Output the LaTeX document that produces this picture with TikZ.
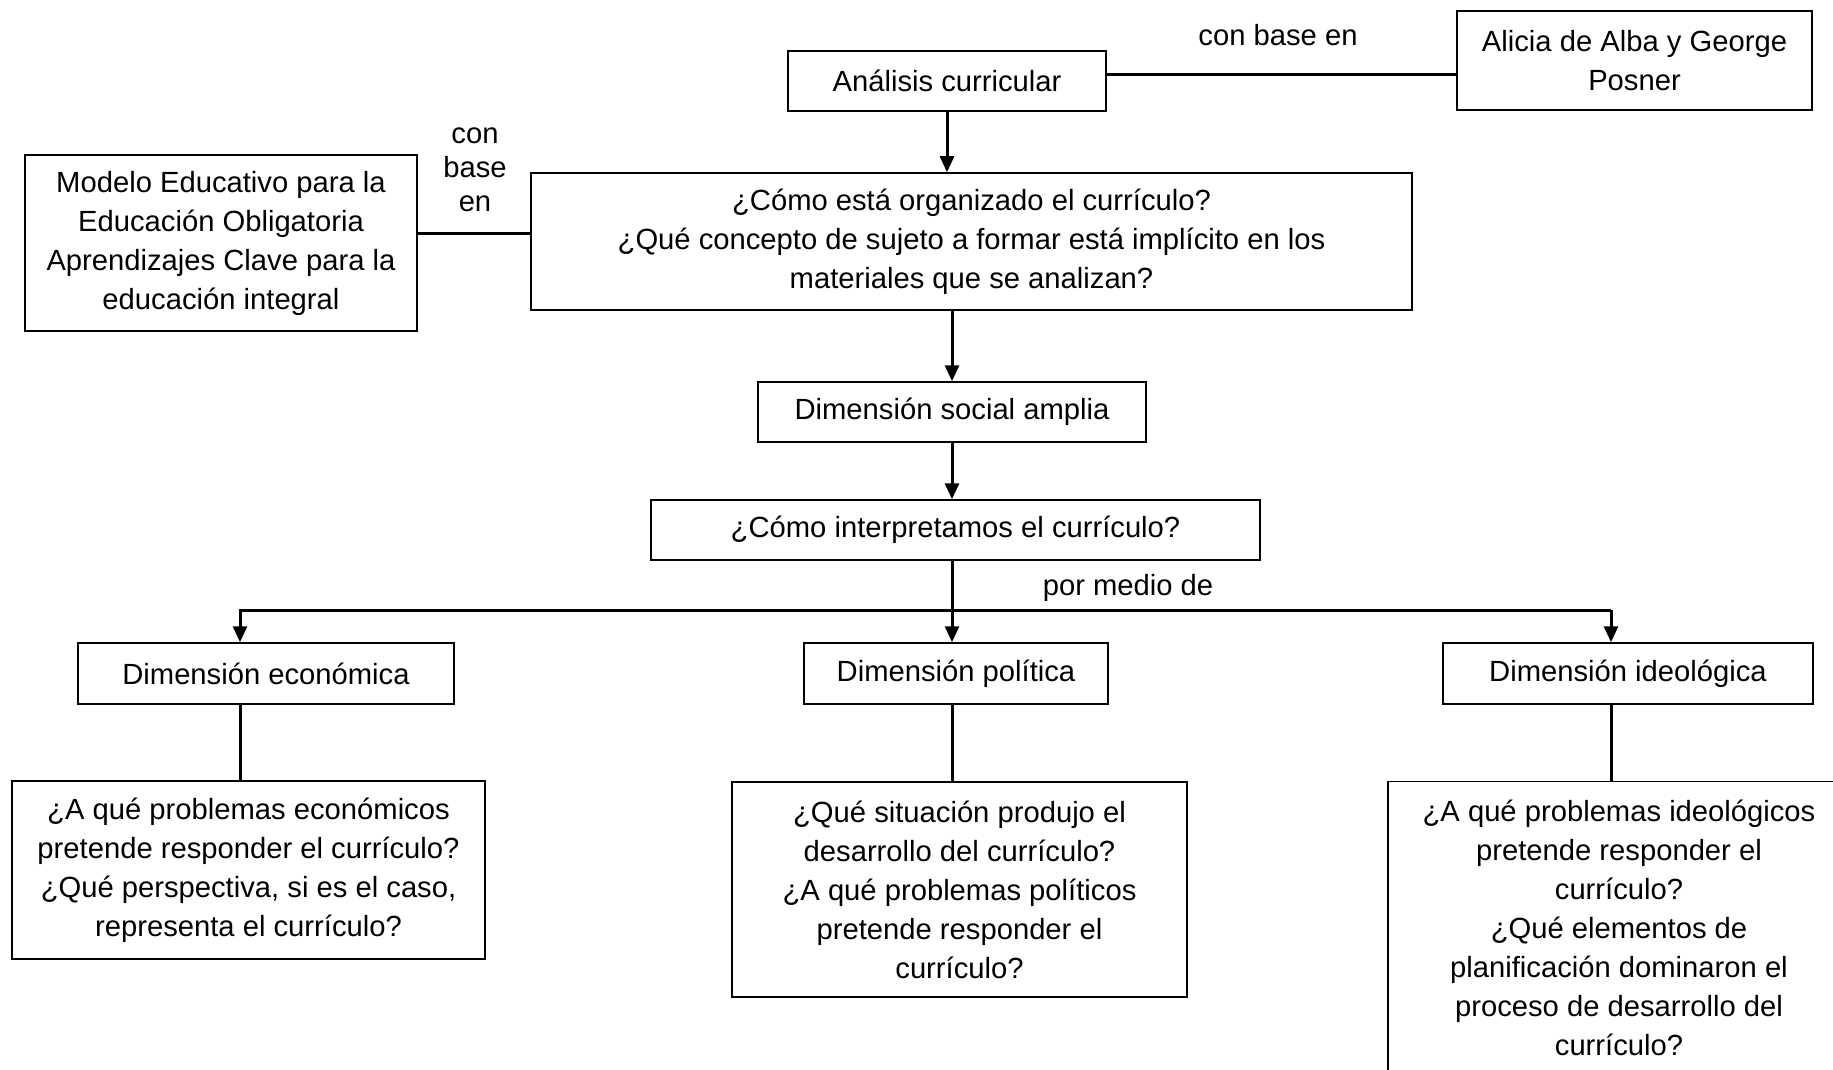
\documentclass[tikz,border=0pt]{standalone}
\usepackage{fontspec}
\setmainfont{Liberation Sans}
\usetikzlibrary{positioning}
\usetikzlibrary{arrows.meta}

\begin{document}
\begin{tikzpicture}[x=0.5pt, y=-0.5pt,
	every node/.style={font=\fontsize{14.6}{19.5}\selectfont, align=center},
	box/.style={draw, line width=0.75pt, inner sep=0pt},
	arr/.style={line width=1.5pt, -{Triangle[length=8pt,width=7pt]}},
	link/.style={line width=1.5pt}]
	\useasboundingbox (0,0) rectangle (1833,1070);
	\clip (0,0) rectangle (1833,1070);

	% Top row
	\node [box, minimum width=159pt, minimum height=30pt] at (947,81) (analisis) {Análisis curricular};
	\node [box, minimum width=177.5pt, minimum height=49.5pt] at (1634.5,60.5) (alicia) {Alicia de Alba y George\\Posner};
	\node at (1278,35) (lbasetop) {con base en};

	% Second row
	\node [box, minimum width=196pt, minimum height=88pt] at (221,243) (modelo) {Modelo Educativo para la\\Educación Obligatoria\\Aprendizajes Clave para la\\educación integral};
	\node [box, minimum width=440.5pt, minimum height=68.5pt] at (971.5,241.5) (como) {¿Cómo está organizado el currículo?\\¿Qué concepto de sujeto a formar está implícito en los\\materiales que se analizan?};
	\node [font=\fontsize{14.6}{17}\selectfont] at (475,170) (lbaseleft) {con\\base\\en};

	% Middle
	\node [box, minimum width=194pt, minimum height=30pt] at (952,412) (social) {Dimensión social amplia};
	\node [box, minimum width=304.5pt, minimum height=30pt] at (955.5,530) (interp) {¿Cómo interpretamos el currículo?};
	\node at (1128,588) (lmedio) {por medio de};

	% Dimensions
	\node [box, minimum width=188pt, minimum height=30.5pt] at (266,673.5) (econ) {Dimensión económica};
	\node [box, minimum width=152pt, minimum height=30.5pt] at (956,673.5) (polit) {Dimensión política};
	\node [box, minimum width=185pt, minimum height=30.5pt] at (1628,673.5) (ideol) {Dimensión ideológica};

	% Questions
	\node [box, minimum width=236.5pt, minimum height=89pt] at (248.5,870) (qecon) {¿A qué problemas económicos\\pretende responder el currículo?\\¿Qué perspectiva, si es el caso,\\representa el currículo?};
	\node [box, minimum width=227.5pt, minimum height=107.5pt] at (959.5,889.5) (qpolit) {¿Qué situación produjo el\\desarrollo del currículo?\\¿A qué problemas políticos\\pretende responder el\\currículo?};
	\node [box, minimum width=231pt, minimum height=146.5pt] at (1619,928) (qideol) {¿A qué problemas ideológicos\\pretende responder el\\currículo?\\¿Qué elementos de\\planificación dominaron el\\proceso de desarrollo del\\currículo?};

	% Branch points
	\coordinate (leftend) at (240,610);
	\coordinate (rightend) at (1611,610);

	% Connections
	\draw [link] ([yshift=3pt]analisis.east) -- ([yshift=3pt]analisis.east -| alicia.west);
	\draw [link] ([yshift=4.5pt]modelo.east) -- ([yshift=4.5pt]modelo.east -| como.west);
	\draw [arr] (analisis.south) -- (analisis.south |- como.north);
	\draw [arr] (como.south -| social.north) -- (social.north);
	\draw [arr] (social.south) -- (social.south |- interp.north);
	\draw [arr] (interp.south -| social.south) -- (social.south |- polit.north);
	\draw [arr] (rightend) -- (leftend) -- (leftend |- econ.north);
	\draw [arr] (rightend) -- (rightend |- ideol.north);
	\draw [link] (leftend |- econ.south) -- (leftend |- qecon.north);
	\draw [link] (social.south |- polit.south) -- (social.south |- qpolit.north);
	\draw [link] (rightend |- ideol.south) -- (rightend |- qideol.north);
\end{tikzpicture}
\end{document}
